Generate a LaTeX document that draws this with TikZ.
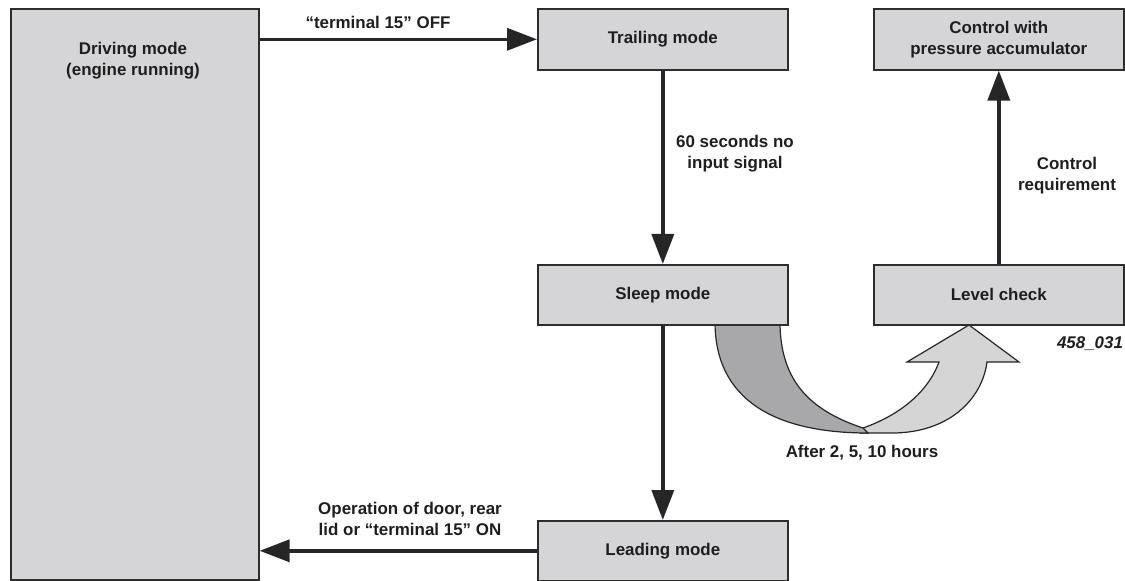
\documentclass[tikz,border=0pt]{standalone}
\usepackage{fontspec}
\setmainfont{Liberation Sans}
\usetikzlibrary{arrows.meta}
\definecolor{boxgray}{RGB}{213,213,215}
\definecolor{darkband}{RGB}{168,168,171}
\definecolor{lightband}{RGB}{213,213,213}
\definecolor{edgecol}{RGB}{45,45,45}
\definecolor{txt}{RGB}{30,30,30}
\tikzset{
  modebox/.style={draw=edgecol, line width=1.6bp, fill=boxgray, minimum width=250bp, minimum height=61bp, inner sep=0pt,
    font=\fontsize{17}{21}\selectfont\bfseries, text=txt, align=center},
  lbl/.style={font=\fontsize{17}{21}\selectfont\bfseries, text=txt, align=center, inner sep=0pt},
  flow/.style={draw=black!85, line width=3.5bp, -{Triangle[length=30bp,width=22bp]}},
  band/.style={draw=black!85, line width=1.2bp}
}
\begin{document}
\begin{tikzpicture}[x=1bp,y=-1bp]
\useasboundingbox (0,0) rectangle (1125,581);
% curved arrows (drawn before boxes)
\draw[band, fill=lightband] (860,433) -- (892,433) .. controls (948,433) and (982,400) .. (987,362)
  -- (1019,362) -- (969,325) -- (907,362) -- (939,362)
  .. controls (928,392) and (900,415) .. (863,428) -- cycle;
\draw[band, fill=darkband] (715,322) .. controls (715,400) and (775,433) .. (868,433)
  -- (863,428) .. controls (815,412) and (780,385) .. (780,322) -- cycle;
% boxes
\node[modebox, minimum width=248bp, minimum height=571bp, anchor=north west] (drive) at (10,8) {};
\node[lbl] (drivetxt) at (133,60.5) {Driving mode\\(engine running)};
\node[modebox, anchor=north west] (trail) at (537,8) {Trailing mode};
\node[modebox, anchor=north west] (ctrl) at (873,8) {Control with\\pressure accumulator};
\node[modebox, anchor=north west, minimum height=60bp] (sleep) at (537,264) {Sleep mode};
\node[modebox, anchor=north west, minimum height=60bp] (level) at (873,264) {Level check};
\node[modebox, anchor=north west, minimum height=60bp] (lead) at (537,520) {Leading mode};
% connectors
\draw[flow] (drive.east |- trail.west) -- (trail.west);
\draw[flow] (trail.south) -- (sleep.north);
\draw[flow] (sleep.south) -- (lead.north);
\draw[flow] (lead.west) -- (drive.east |- lead.west);
\draw[flow] (level.north) -- (ctrl.south);
% labels
\node[lbl] (l1) at (378,22) {“terminal 15” OFF};
\node[lbl] (l2) at (735,154) {60 seconds no\\input signal};
\node[lbl] (l3) at (1067,176) {Control\\requirement};
\node[lbl] (l4) at (410,519) {Operation of door, rear\\lid or “terminal 15” ON};
\node[lbl] (l5) at (862,453) {After 2, 5, 10 hours};
\node[lbl, font=\fontsize{17}{21}\selectfont\bfseries\itshape] (fig) at (1090,344) {458\_031};
\end{tikzpicture}
\end{document}
